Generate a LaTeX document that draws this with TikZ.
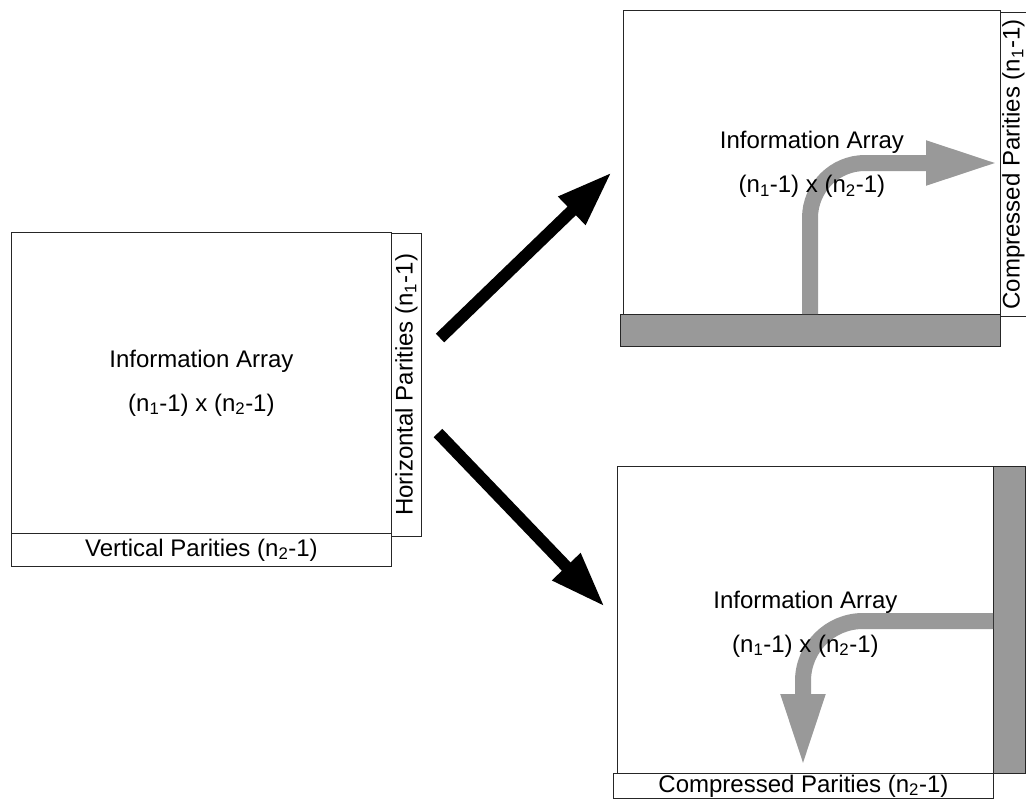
\documentclass[tikz,border=0pt]{standalone}
\usepackage{fontspec}
\setmainfont{Liberation Sans}
\usetikzlibrary{arrows.meta}
\begin{document}
\begin{tikzpicture}[x=1pt,y=-1pt,
  box/.style={draw=black!85,line width=0.8pt,inner sep=0pt,anchor=north west},
  lbl/.style={font=\fontsize{24}{28}\selectfont,inner sep=0pt},
  info/.style={font=\fontsize{24}{44}\selectfont,align=center,inner sep=0pt},
  shadebar/.style={fill=black!40},
  bigarrow/.style={line width=12pt,-{Triangle[length=56pt,width=36pt]}},
  flow/.style={draw=black!40,line width=16pt,-{Triangle[length=74pt,width=40pt]}}]
\useasboundingbox (0,0) rectangle (1026,801);
\clip (0,0) rectangle (1026,801);

% ---------- left block ----------
\node[box,minimum width=380pt,minimum height=301pt] (ia1) at (11,232) {};
\node[box,minimum width=30pt,minimum height=303pt] (hp) at (391,233) {};
\node[box,minimum width=380pt,minimum height=33pt] (vp) at (11,533) {};
\node[info] (t1) at (ia1.center) {Information Array\\(n\textsubscript{1}-1) x (n\textsubscript{2}-1)};
\node[lbl,rotate=90] (hpt) at (hp.center) {Horizontal Parities (n\textsubscript{1}-1)};
\node[lbl] (vpt) at (vp.center) {Vertical Parities (n\textsubscript{2}-1)};

% ---------- top-right block ----------
\node[box,minimum width=377pt,minimum height=304pt] (ia2) at (623,10) {};
\node[box,shadebar,minimum width=380pt,minimum height=32pt] (hb2) at (620,314) {};
\node[box,minimum width=32pt,minimum height=304pt] (cp1) at (1000,12) {};
\node[lbl,rotate=90] (cp1t) at ([xshift=-3pt]cp1.center) {Compressed Parities (n\textsubscript{1}-1)};

% ---------- bottom-right block ----------
\node[box,minimum width=376pt,minimum height=307pt] (ia3) at (617,466) {};
\node[box,shadebar,minimum width=32pt,minimum height=307pt] (vb3) at (993,466) {};
\node[box,minimum width=380pt,minimum height=25pt] (cp2) at (613,773) {};
\node[lbl] (cp2t) at (cp2.center) {Compressed Parities (n\textsubscript{2}-1)};

% ---------- flow arrows ----------
\coordinate (f1a) at (810,314);
\coordinate (f1b) at (810,163);
\coordinate (f1c) at (1000,163);
\draw[flow,rounded corners=55pt] (f1a) -- (f1b) -- (f1c);
\coordinate (f2a) at (993,621);
\coordinate (f2b) at (803,621);
\coordinate (f2c) at (803,768);
\draw[flow,rounded corners=60pt] (f2a) -- (f2b) -- (f2c);

\node[info] (t2) at ([yshift=-2pt]ia2.center) {Information Array\\(n\textsubscript{1}-1) x (n\textsubscript{2}-1)};
\node[info] (t3) at ([yshift=-4pt]ia3.center) {Information Array\\(n\textsubscript{1}-1) x (n\textsubscript{2}-1)};

% ---------- black arrows ----------
\coordinate (a1s) at (440,338);
\coordinate (a1e) at (612,172);
\coordinate (a2s) at (438,433);
\coordinate (a2e) at (605,607);
\draw[bigarrow] (a1s) -- (a1e);
\draw[bigarrow] (a2s) -- (a2e);
\end{tikzpicture}
\end{document}
